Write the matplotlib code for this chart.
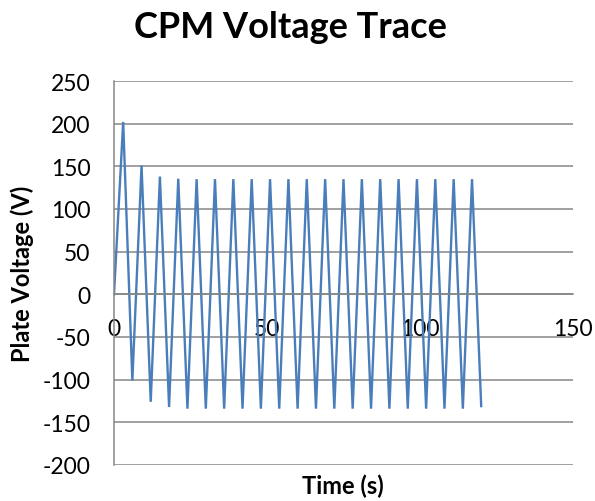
import matplotlib
matplotlib.use("Agg")
import matplotlib.pyplot as plt

time_s = [0, 3, 6, 9, 12, 15, 18, 21, 24, 27, 30, 33, 36, 39, 42, 45, 48, 51, 54, 57,
          60, 63, 66, 69, 72, 75, 78, 81, 84, 87, 90, 93, 96, 99, 102, 105, 108, 111,
          114, 117, 120]
voltage = [0, 202, -101, 151, -126, 138, -132, 135.5, -134, 135, -134, 135, -134, 135,
           -134, 135, -134, 135, -134, 135, -134, 135, -134, 135, -134, 135, -134, 135,
           -134, 135, -134, 135, -134, 135, -134, 135, -134, 135, -134, 135, -131]
x_ticks = [0, 50, 100, 150]
y_ticks = [-200, -150, -100, -50, 0, 50, 100, 150, 200, 250]

plt.rcParams['font.family'] = ['Lato', 'DejaVu Sans']
plt.rcParams['axes.unicode_minus'] = False

W, H = 595, 502
fig = plt.figure(figsize=(W / 100, H / 100), dpi=100)
ax = fig.add_axes([114 / W, (H - 466) / H, (573 - 114) / W, (466 - 82) / H])

grid_c = '#868686'
ax.plot(time_s, voltage, color='#4A7EBB', lw=1.7, solid_joinstyle='miter')
ax.set_xlim(0, 150)
ax.set_ylim(-200, 250)
ax.set_xticks(x_ticks)
ax.set_yticks(y_ticks)
ax.yaxis.grid(True, color=grid_c, lw=1.1)
ax.set_axisbelow(True)

for s in ['top', 'right']:
    ax.spines[s].set_visible(False)
ax.spines['left'].set_color(grid_c)
ax.spines['left'].set_linewidth(1.1)
ax.spines['bottom'].set_position(('data', 0))
ax.spines['bottom'].set_color(grid_c)
ax.spines['bottom'].set_linewidth(1.1)
ax.tick_params(axis='both', length=0, labelsize=16.5, colors='black')
ax.tick_params(axis='y', pad=17)
ax.tick_params(axis='x', pad=17)
for lab in ax.get_xticklabels() + ax.get_yticklabels():
    lab.set_clip_on(False)

fig.text(290 / W, 1 - 27 / H, 'CPM Voltage Trace', ha='center', va='center',
         fontsize=26, fontweight='bold')
fig.text(343 / W, 1 - 486 / H, 'Time (s)', ha='center', va='center',
         fontsize=17, fontweight='bold')
fig.text(22 / W, 1 - 274 / H, 'Plate Voltage (V)', ha='center', va='center',
         rotation=90, fontsize=17, fontweight='bold')

fig.savefig('out.png', dpi=100)
